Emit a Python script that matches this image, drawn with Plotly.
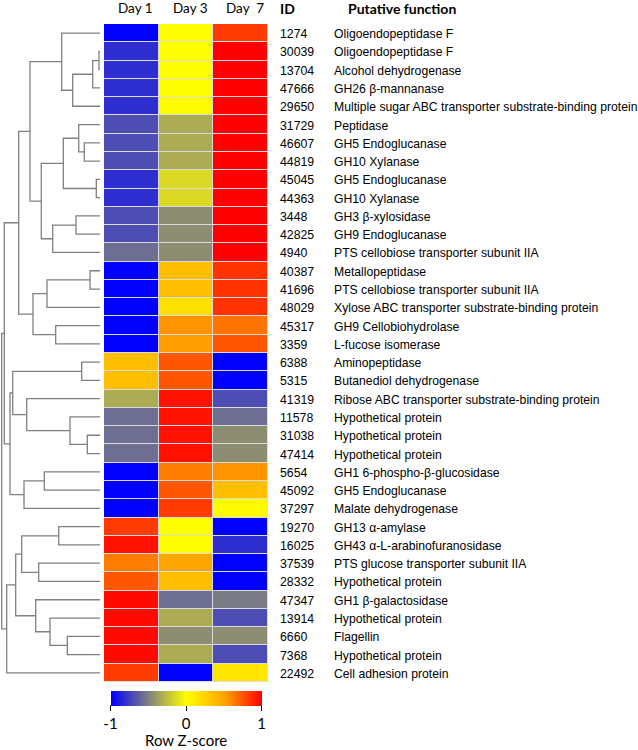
import plotly.graph_objects as go

# ---------------- data ----------------
days = ["Day 1", "Day 3", "Day  7"]
ids = ["1274", "30039", "13704", "47666", "29650", "31729", "46607", "44819", "45045",
       "44363", "3448", "42825", "4940", "40387", "41696", "48029", "45317", "3359",
       "6388", "5315", "41319", "11578", "31038", "47414", "5654", "45092", "37297",
       "19270", "16025", "37539", "28332", "47347", "13914", "6660", "7368", "22492"]
functions = ["Oligoendopeptidase F", "Oligoendopeptidase F", "Alcohol dehydrogenase",
             "GH26 β-mannanase", "Multiple sugar ABC transporter substrate-binding protein",
             "Peptidase", "GH5 Endoglucanase", "GH10 Xylanase", "GH5 Endoglucanase",
             "GH10 Xylanase", "GH3 β-xylosidase", "GH9 Endoglucanase",
             "PTS cellobiose transporter subunit IIA", "Metallopeptidase",
             "PTS cellobiose transporter subunit IIA",
             "Xylose ABC transporter substrate-binding protein", "GH9 Cellobiohydrolase",
             "L-fucose isomerase", "Aminopeptidase", "Butanediol dehydrogenase",
             "Ribose ABC transporter substrate-binding protein", "Hypothetical protein",
             "Hypothetical protein", "Hypothetical protein", "GH1 6-phospho-β-glucosidase",
             "GH5 Endoglucanase", "Malate dehydrogenase", "GH13 α-amylase",
             "GH43 α-L-arabinofuranosidase", "PTS glucose transporter subunit IIA",
             "Hypothetical protein", "GH1 β-galactosidase", "Hypothetical protein",
             "Flagellin", "Hypothetical protein", "Cell adhesion protein"]

day1 = [-1.0, -0.82, -0.82, -0.82, -0.82, -0.7, -0.7, -0.7, -0.82, -0.82, -0.7, -0.7,
        -0.57, -1.0, -1.0, -1.0, -1.0, -1.0, 0.36, 0.36, -0.33, -0.57, -0.57, -0.57,
        -1.0, -1.0, -1.0, 0.82, 0.95, 0.62, 0.74, 0.97, 0.97, 0.97, 0.97, 0.82]
day3 = [0.0, 0.0, 0.0, 0.0, 0.02, -0.33, -0.33, -0.33, -0.15, -0.15, -0.45, -0.45,
        -0.45, 0.36, 0.36, 0.17, 0.55, 0.52, 0.74, 0.74, 0.95, 0.95, 0.95, 0.95,
        0.62, 0.74, 0.82, 0.0, 0.0, 0.5, 0.36, -0.57, -0.33, -0.45, -0.33, -1.0]
day7 = [0.82, 1.0, 1.0, 1.0, 1.0, 1.0, 1.0, 1.0, 1.0, 1.0, 1.0, 1.0,
        1.0, 0.85, 0.85, 0.85, 0.65, 0.74, -1.0, -1.0, -0.7, -0.57, -0.45, -0.45,
        0.55, 0.36, 0.03, -1.0, -0.82, -1.0, -1.0, -0.52, -0.7, -0.45, -0.7, 0.14]

colorbar_ticks = [-1, 0, 1]
colorbar_title = "Row Z-score"

# dendrogram linkage: (node a, node b, merge height); leaves are rows 0..35,
# new clusters numbered 36, 37, ... in order
merges = [
    (1, 2, 1.0), (36, 3, 7.3), (37, 4, 27.3), (0, 38, 38.3),
    (6, 7, 15.7), (5, 40, 21.3), (8, 9, 3.7), (41, 42, 36.7),
    (10, 11, 24.0), (44, 12, 47.3), (43, 45, 58.7), (39, 46, 70.0),
    (13, 14, 10.0), (48, 15, 53.0), (16, 17, 44.3), (49, 50, 67.0),
    (47, 51, 81.3), (18, 19, 18.3), (22, 23, 12.7), (21, 54, 30.0),
    (20, 55, 73.3), (53, 56, 87.3), (24, 25, 55.7), (58, 26, 76.0),
    (57, 59, 90.0), (52, 60, 95.7), (27, 28, 41.3), (29, 30, 61.3),
    (62, 63, 78.3), (33, 34, 32.7), (32, 65, 50.0), (31, 66, 64.3),
    (64, 67, 84.3), (68, 35, 93.3), (61, 69, 98.3),
]

# ---------------- figure ----------------
W, H = 638, 750
n = len(ids)
z = [[day1[i], day3[i], day7[i]] for i in range(n)]

colorscale = [
    [0.0, "rgb(0,0,255)"],
    [0.25, "rgb(128,128,128)"],
    [0.5, "rgb(255,255,0)"],
    [0.75, "rgb(255,165,0)"],
    [1.0, "rgb(255,0,0)"],
]

HEAD_FONT = "Lato, Open Sans, sans-serif"
LABEL_FONT = "Arial, Liberation Sans, sans-serif"

fig = go.Figure()

fig.add_trace(go.Heatmap(
    z=z, x=list(range(len(days))), y=list(range(n)),
    colorscale=colorscale, zmin=-1, zmax=1, xgap=1, ygap=1,
    hoverinfo="skip",
    colorbar=dict(
        orientation="h", x=186 / W, xanchor="center",
        y=(H - 690.5) / H, yanchor="top",
        len=151, lenmode="pixels", thickness=15, thicknessmode="pixels",
        xpad=0, ypad=0, outlinewidth=0,
        tickvals=colorbar_ticks, ticktext=[str(t) for t in colorbar_ticks],
        ticks="outside", ticklen=5, tickwidth=1, tickcolor="black",
        tickfont=dict(family=HEAD_FONT, size=15, color="black"),
    ),
))

# dendrogram
ypos = {i: float(i) for i in range(n)}
hgt = {i: 0.0 for i in range(n)}
dx, dy = [], []
node = n
for a, b, h in merges:
    dx += [hgt[a], h, h, hgt[b], None]
    dy += [ypos[a], ypos[a], ypos[b], ypos[b], None]
    ypos[node] = (ypos[a] + ypos[b]) / 2
    hgt[node] = h
    node += 1

fig.add_trace(go.Scatter(
    x=dx, y=dy, xaxis="x2", yaxis="y", mode="lines",
    line=dict(color="#808080", width=1.3), hoverinfo="skip", showlegend=False,
))

ann = []
for j, d in enumerate(days):
    ann.append(dict(x=j, y=(H - 8) / H, xref="x", yref="paper", text=d,
                    showarrow=False, xanchor="center", yanchor="middle", xshift=4,
                    font=dict(family=HEAD_FONT, size=13.5, color="black")))
ann.append(dict(x=278 / W, y=(H - 8) / H, xref="paper", yref="paper", text="<b>ID</b>",
                showarrow=False, xanchor="left", yanchor="middle",
                font=dict(family=HEAD_FONT, size=14, color="black")))
ann.append(dict(x=346 / W, y=(H - 8) / H, xref="paper", yref="paper",
                text="<b>Putative function</b>",
                showarrow=False, xanchor="left", yanchor="middle",
                font=dict(family=HEAD_FONT, size=14, color="black")))
ann.append(dict(x=186 / W, y=0, xref="paper", yref="paper",
                text=colorbar_title, showarrow=False, xanchor="center", yanchor="bottom",
                borderpad=0,
                font=dict(family=HEAD_FONT, size=15, color="black")))
for i in range(n):
    ann.append(dict(x=277.5 / W, y=i, xref="paper", yref="y", text=ids[i],
                    showarrow=False, xanchor="left", yanchor="middle", yshift=-1,
                    font=dict(family=LABEL_FONT, size=12.3, color="black")))
    ann.append(dict(x=332 / W, y=i, xref="paper", yref="y", text=functions[i],
                    showarrow=False, xanchor="left", yanchor="middle", yshift=-1,
                    font=dict(family=LABEL_FONT, size=12.2, color="black")))

shapes = [
    dict(type="rect", xref="x", yref="y", x0=-0.5, x1=len(days) - 0.5,
         y0=-0.5, y1=n - 0.5, fillcolor="#dcdcdc", line=dict(width=0), layer="below"),
    dict(type="line", xref="paper", yref="paper", x0=110.5 / W, x1=262 / W,
         y0=(H - 705.5) / H, y1=(H - 705.5) / H, line=dict(color="black", width=1)),
]

fig.update_layout(
    width=W, height=H, margin=dict(l=0, r=0, t=0, b=0),
    paper_bgcolor="white", plot_bgcolor="white",
    xaxis=dict(domain=[104 / W, 268 / W], range=[-0.5, len(days) - 0.5],
               visible=False, fixedrange=True),
    yaxis=dict(domain=[(H - 682) / H, (H - 24) / H], range=[n - 0.5, -0.5],
               visible=False, fixedrange=True),
    xaxis2=dict(domain=[0, 100 / W], range=[100, 0], anchor="y",
                visible=False, fixedrange=True),
    annotations=ann, shapes=shapes, showlegend=False,
)

fig.write_html(
    "out.html",
    config={"displayModeBar": False},
    post_script="document.body.style.margin='0';document.body.style.overflow='hidden';",
)
